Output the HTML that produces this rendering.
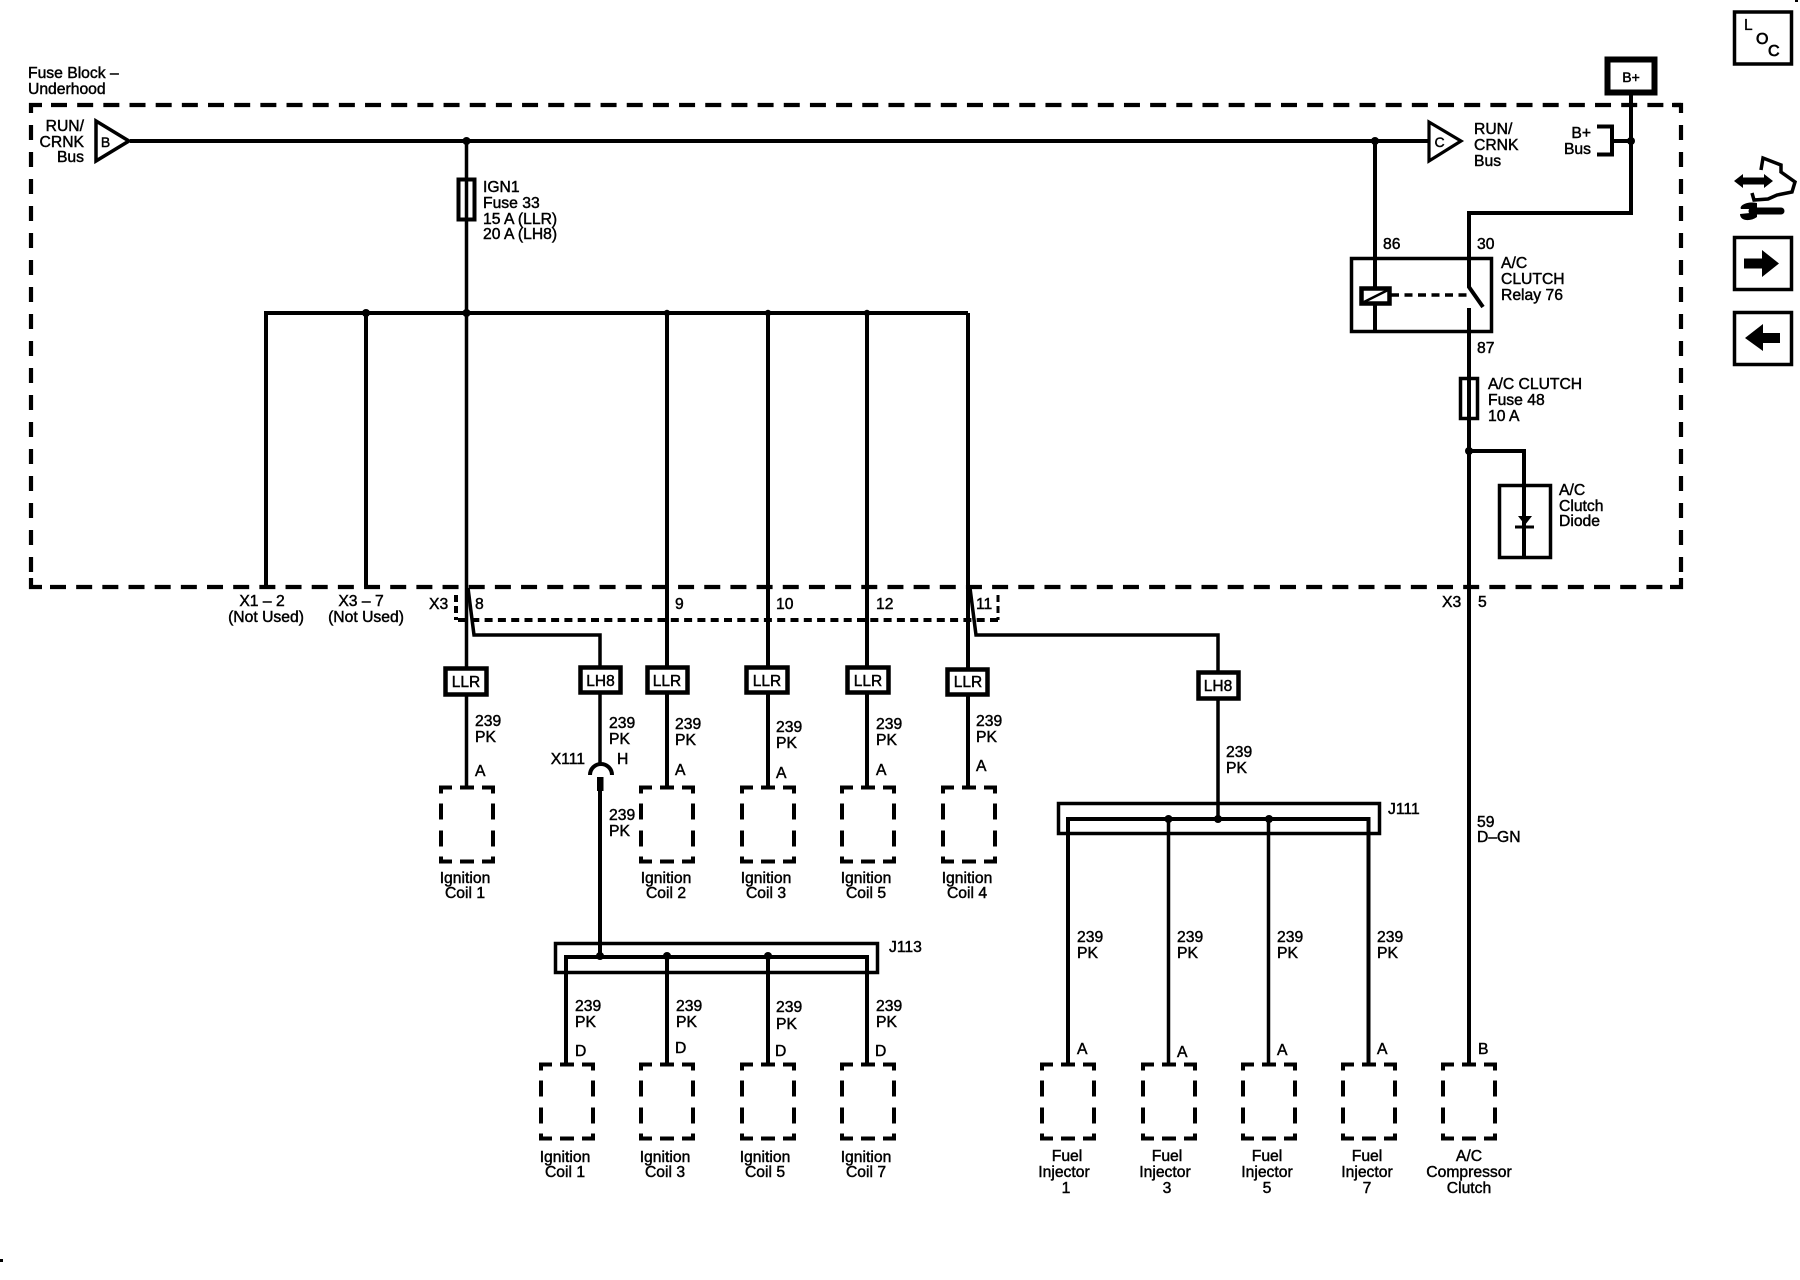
<!DOCTYPE html>
<html><head><meta charset="utf-8"><title>Wiring diagram</title>
<style>
html,body{margin:0;padding:0;background:#fff}
svg{display:block}
text{font-family:"Liberation Sans",sans-serif;font-size:15.7px;fill:#000;stroke:#000;stroke-width:.45}
.m{text-anchor:middle}.e{text-anchor:end}
.w{fill:none;stroke:#000;stroke-width:3.5}
.b{fill:none;stroke:#000;stroke-width:4}
.l{fill:#fff;stroke:#000;stroke-width:4.5}
</style></head><body>
<svg width="1800" height="1280" viewBox="0 0 1800 1280" xmlns="http://www.w3.org/2000/svg">
<defs>
<path id="cb" transform="translate(-1,-1.5)" fill="none" stroke="#000" stroke-width="4" d="M13 2H2V8M2 18V34M2 45V61M2 71V76H13M21 76H35M43 76H54V71M54 61V45M54 34V18M54 8V2H43M35 2H21"/>
</defs>
<!-- main dashed box -->
<g fill="none" stroke="#000" stroke-width="4.2">
<path d="M51 105H1681" stroke-dasharray="16 10.17"/>
<path d="M42 105H31V113M1672 105H1681V113M31 578V587H42M1681 578V587H1670"/>
<path d="M31 125V578" stroke-dasharray="15 12"/>
<path d="M1681 125V578" stroke-dasharray="15 12"/>
<path d="M50 587H1670" stroke-dasharray="16 10.17"/>
</g>
<!-- inner dotted -->
<g fill="none" stroke="#000" stroke-width="4">
<path d="M458 620H998" stroke-dasharray="8 5.3"/>
<path d="M456 595V620" stroke-width="4" stroke-dasharray="7 4"/>
<path d="M998 595V620" stroke-width="3" stroke-dasharray="7 4"/>
</g>
<!-- buses and wires -->
<path class="b" d="M130 141H1428"/>
<path class="b" d="M264 313H968"/>
<path class="b" d="M266 313V587"/>
<path class="b" d="M366 313V587"/>
<path class="w" d="M466.500 141V787"/>
<path class="b" d="M667 313V787"/>
<path class="b" d="M768 313V787"/>
<path class="b" d="M867 313V787"/>
<path class="b" d="M968 313V787"/>
<path class="w" d="M468 588L474 635H600V765"/>
<path class="w" d="M970 588L976 635H1218V819"/>
<path class="b" d="M600 791V957"/>
<path fill="none" stroke="#000" stroke-width="4" d="M590 775A11 11 0 0 1 612 775"/>
<rect x="597" y="777" width="6.500" height="14" fill="#000"/>
<!-- J113 -->
<rect x="555.500" y="943.500" width="322" height="29" class="w"/>
<path class="b" d="M566 1064V957H867V1064"/>
<path class="b" d="M667 957V1064M768 957V1064"/>
<!-- J111 -->
<rect x="1058.500" y="803.500" width="321" height="30" class="w"/>
<path class="b" d="M1068 1064V819H1368.500V1064"/>
<path class="w" d="M1168.500 819V1064M1268.500 819V1064"/>
<!-- B+ / relay side -->
<path class="b" d="M1375 141V333"/>
<path class="b" d="M1631 95V213H1469V287L1483 307"/>
<path class="b" d="M1469 308V1064"/>
<path class="b" d="M1597 126.500H1612V154.500H1597M1612 141H1631"/>
<rect x="1351.500" y="258.500" width="140" height="73" class="w"/>
<rect x="1361.500" y="288.500" width="28" height="15" class="l" stroke-width="4"/>
<path d="M1364 302L1388 290" stroke="#000" stroke-width="2.500"/>
<path class="w" d="M1391 295H1469" stroke-dasharray="8 5.500"/>
<path class="b" d="M1375 304V333"/>
<!-- fuses -->
<rect x="458.500" y="179.500" width="16" height="40" fill="none" stroke="#000" stroke-width="4"/>
<rect x="1460.500" y="378.500" width="17" height="40" fill="none" stroke="#000" stroke-width="3.500"/>
<!-- diode -->
<path class="b" d="M1469 451H1524V559"/>
<rect x="1499.500" y="485.500" width="51" height="72" class="w"/>
<path d="M1518 516H1532L1525 525Z" fill="#000"/>
<path d="M1515 527H1534" stroke="#000" stroke-width="3"/>
<!-- triangles -->
<path d="M96 121V161L129 141Z" fill="#fff" stroke="#000" stroke-width="3.500"/>
<path d="M1429 122V161L1461 141Z" fill="#fff" stroke="#000" stroke-width="3.200"/>
<!-- junctions -->
<g fill="#000">
<circle cx="466.500" cy="141" r="4"/><circle cx="366" cy="313" r="4"/><circle cx="466.500" cy="313" r="4"/>
<circle cx="667" cy="313" r="3.200"/><circle cx="768" cy="313" r="3.200"/><circle cx="867" cy="313" r="3.200"/>
<circle cx="1375" cy="141" r="4"/><circle cx="1631" cy="141" r="4"/><circle cx="1469" cy="451" r="4"/>
<circle cx="600" cy="956" r="4"/><circle cx="667" cy="956" r="4"/><circle cx="768" cy="956" r="4"/>
<circle cx="1168.500" cy="819" r="4"/><circle cx="1218" cy="819" r="4"/><circle cx="1269" cy="819" r="4"/>
</g>
<!-- option boxes -->
<rect x="445.500" y="668.500" width="41" height="26" class="l"/>
<rect x="580.500" y="667.500" width="40" height="25" class="l"/>
<rect x="647.500" y="667.500" width="40" height="25" class="l"/>
<rect x="746.500" y="667.500" width="41" height="25" class="l"/>
<rect x="847.500" y="667.500" width="41" height="25" class="l"/>
<rect x="947.500" y="669.500" width="40" height="25" class="l"/>
<rect x="1198.500" y="672.500" width="40" height="26" class="l"/>
<rect x="1607.500" y="59.500" width="47" height="33" fill="#fff" stroke="#000" stroke-width="6"/>
<!-- component boxes -->
<use href="#cb" x="440" y="787"/><use href="#cb" x="640" y="787"/><use href="#cb" x="741" y="787"/><use href="#cb" x="841" y="787"/><use href="#cb" x="942" y="787"/>
<use href="#cb" x="540" y="1064"/><use href="#cb" x="640" y="1064"/><use href="#cb" x="741" y="1064"/><use href="#cb" x="841" y="1064"/>
<use href="#cb" x="1041" y="1064"/><use href="#cb" x="1142" y="1064"/><use href="#cb" x="1242" y="1064"/><use href="#cb" x="1342" y="1064"/><use href="#cb" x="1442" y="1064"/>
<!-- right icons -->
<rect x="1734.500" y="12" width="57" height="52" fill="none" stroke="#000" stroke-width="3.500"/>
<rect x="1734.500" y="237.500" width="57" height="52" fill="none" stroke="#000" stroke-width="3.500"/>
<rect x="1734.500" y="312.500" width="57" height="52" fill="none" stroke="#000" stroke-width="3.500"/>
<path d="M1744 258.500H1762V250L1779 263.500L1762 277V268.500H1744Z" fill="#000"/>
<path d="M1780 333H1763V324L1745 338L1763 351V343H1780Z" fill="#000"/>
<path d="M1734 181L1743 174V177.500H1764V174L1773 181L1764 188V184.500H1743V188Z" fill="#000"/>
<path d="M1761 170L1763 158L1781 165L1781 172L1795 182L1792 192L1777 195L1768 199L1754 200L1752 193" fill="none" stroke="#000" stroke-width="3.500"/>
<path d="M1752 211H1781" stroke="#000" stroke-width="7" stroke-linecap="round"/>
<path d="M1757 203C1746 201 1739 206 1741 209L1750 209V213L1740 214C1740 221 1750 222 1757 217Z" fill="#000"/>
<rect x="0" y="1259" width="3" height="3" fill="#000"/>
<rect x="1795" y="0" width="3" height="2" fill="#000"/>
<!-- text -->
<text x="28" y="78">Fuse Block –</text><text x="28" y="94">Underhood</text>
<text class="e" x="84" y="131">RUN/</text><text class="e" x="84" y="147">CRNK</text><text class="e" x="84" y="162">Bus</text>
<text class="m" x="105.500" y="147" style="font-size:14px">B</text>
<text x="483" y="192">IGN1</text><text x="483" y="208">Fuse 33</text><text x="483" y="224">15 A (LLR)</text><text x="483" y="239">20 A (LH8)</text>
<text x="1474" y="134">RUN/</text><text x="1474" y="150">CRNK</text><text x="1474" y="166">Bus</text>
<text class="m" x="1439.500" y="147" style="font-size:14px">C</text>
<text class="m" x="1631" y="82" style="font-size:14px">B+</text>
<text class="e" x="1591" y="138">B+</text><text class="e" x="1591" y="154">Bus</text>
<text x="1383" y="249">86</text><text x="1477" y="249">30</text><text x="1477" y="353">87</text>
<text x="1501" y="268">A/C</text><text x="1501" y="284">CLUTCH</text><text x="1501" y="300">Relay 76</text>
<text x="1488" y="389">A/C CLUTCH</text><text x="1488" y="405">Fuse 48</text><text x="1488" y="421">10 A</text>
<text x="1559" y="495">A/C</text><text x="1559" y="511">Clutch</text><text x="1559" y="526">Diode</text>
<text x="1442" y="607">X3</text><text x="1478" y="607">5</text>
<text class="m" x="262" y="606">X1 – 2</text><text class="m" x="266" y="622">(Not Used)</text>
<text class="m" x="361" y="606">X3 – 7</text><text class="m" x="366" y="622">(Not Used)</text>
<text x="429" y="609">X3</text><text x="475" y="609">8</text><text x="675" y="609">9</text><text x="776" y="609">10</text><text x="876" y="609">12</text><text x="976" y="609">11</text>
<text class="m" x="466" y="687" style="font-size:15.5px">LLR</text><text class="m" x="600.500" y="686" style="font-size:15.5px">LH8</text><text class="m" x="667" y="686" style="font-size:15.5px">LLR</text><text class="m" x="767" y="686" style="font-size:15.5px">LLR</text><text class="m" x="868" y="686" style="font-size:15.5px">LLR</text><text class="m" x="968" y="687" style="font-size:15.5px">LLR</text><text class="m" x="1218" y="691" style="font-size:15.5px">LH8</text>
<text x="475" y="726">239</text><text x="475" y="742">PK</text><text x="475" y="776">A</text>
<text x="609" y="728">239</text><text x="609" y="744">PK</text>
<text class="e" x="585" y="764">X111</text><text x="617" y="764">H</text>
<text x="609" y="820">239</text><text x="609" y="836">PK</text>
<text x="675" y="729">239</text><text x="675" y="745">PK</text><text x="675" y="775">A</text>
<text x="776" y="732">239</text><text x="776" y="748">PK</text><text x="776" y="778">A</text>
<text x="876" y="729">239</text><text x="876" y="745">PK</text><text x="876" y="775">A</text>
<text x="976" y="726">239</text><text x="976" y="742">PK</text><text x="976" y="771">A</text>
<text x="1226" y="757">239</text><text x="1226" y="773">PK</text>
<text x="1388" y="814">J111</text><text x="889" y="952">J113</text>
<text x="1477" y="827">59</text><text x="1477" y="842">D–GN</text>
<text class="m" x="465" y="883">Ignition</text><text class="m" x="465" y="898">Coil 1</text>
<text class="m" x="666" y="883">Ignition</text><text class="m" x="666" y="898">Coil 2</text>
<text class="m" x="766" y="883">Ignition</text><text class="m" x="766" y="898">Coil 3</text>
<text class="m" x="866" y="883">Ignition</text><text class="m" x="866" y="898">Coil 5</text>
<text class="m" x="967" y="883">Ignition</text><text class="m" x="967" y="898">Coil 4</text>
<text x="575" y="1011">239</text><text x="575" y="1027">PK</text><text x="575" y="1056">D</text>
<text x="676" y="1011">239</text><text x="676" y="1027">PK</text><text x="675" y="1053">D</text>
<text x="776" y="1012">239</text><text x="776" y="1029">PK</text><text x="775" y="1056">D</text>
<text x="876" y="1011">239</text><text x="876" y="1027">PK</text><text x="875" y="1056">D</text>
<text class="m" x="565" y="1162">Ignition</text><text class="m" x="565" y="1177">Coil 1</text>
<text class="m" x="665" y="1162">Ignition</text><text class="m" x="665" y="1177">Coil 3</text>
<text class="m" x="765" y="1162">Ignition</text><text class="m" x="765" y="1177">Coil 5</text>
<text class="m" x="866" y="1162">Ignition</text><text class="m" x="866" y="1177">Coil 7</text>
<text x="1077" y="942">239</text><text x="1077" y="958">PK</text><text x="1077" y="1054">A</text>
<text x="1177" y="942">239</text><text x="1177" y="958">PK</text><text x="1177" y="1057">A</text>
<text x="1277" y="942">239</text><text x="1277" y="958">PK</text><text x="1277" y="1055">A</text>
<text x="1377" y="942">239</text><text x="1377" y="958">PK</text><text x="1377" y="1054">A</text>
<text x="1478" y="1054">B</text>
<text class="m" x="1067" y="1161">Fuel</text><text class="m" x="1064" y="1177">Injector</text><text class="m" x="1066" y="1193">1</text>
<text class="m" x="1167" y="1161">Fuel</text><text class="m" x="1165" y="1177">Injector</text><text class="m" x="1167" y="1193">3</text>
<text class="m" x="1267" y="1161">Fuel</text><text class="m" x="1267" y="1177">Injector</text><text class="m" x="1267" y="1193">5</text>
<text class="m" x="1367" y="1161">Fuel</text><text class="m" x="1367" y="1177">Injector</text><text class="m" x="1367" y="1193">7</text>
<text class="m" x="1469" y="1161">A/C</text><text class="m" x="1469" y="1177">Compressor</text><text class="m" x="1469" y="1193">Clutch</text>
<text x="1744" y="30" style="font-size:15.5px;stroke-width:.3">L</text><text x="1756" y="44" style="font-size:16px;stroke-width:.7">O</text><text x="1768" y="56" style="font-size:16px;stroke-width:.7">C</text>
</svg>
</body></html>
